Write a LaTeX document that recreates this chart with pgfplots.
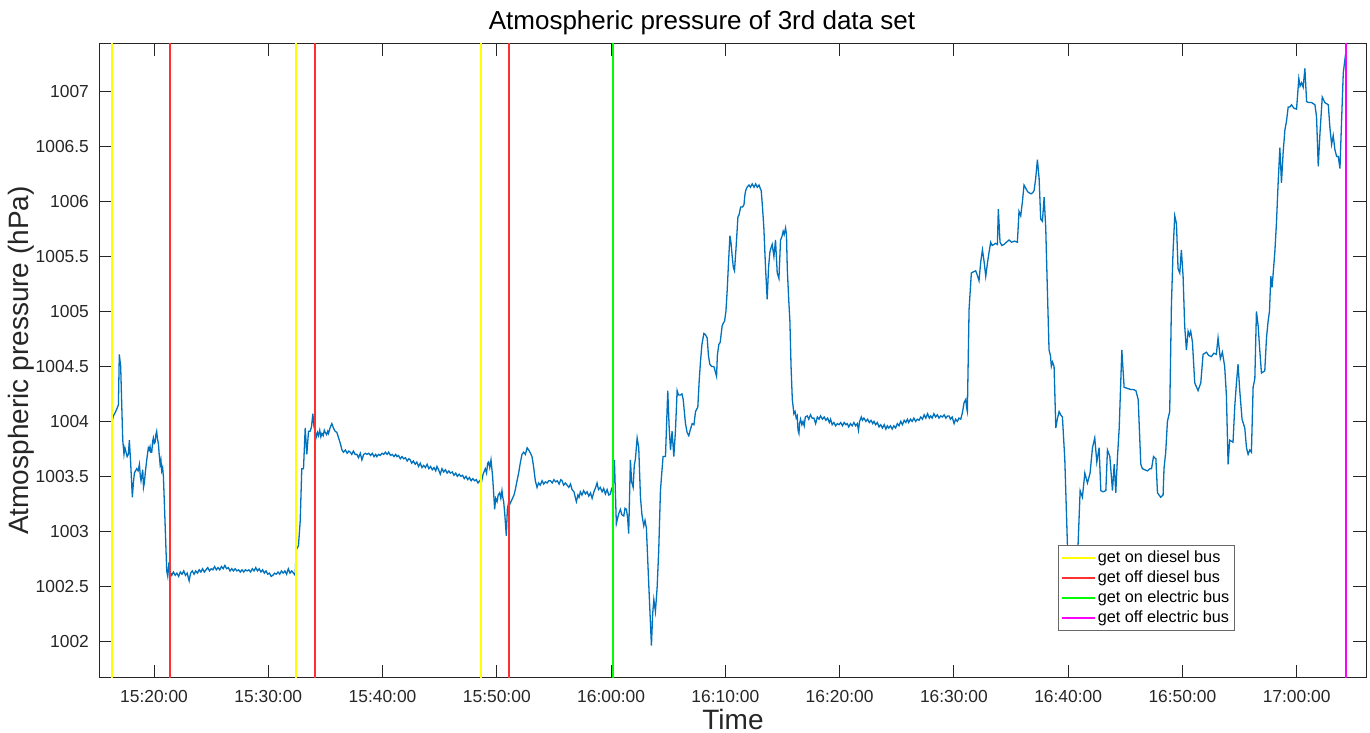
\documentclass[border=0pt]{standalone}
\usepackage{fontspec}
\setmainfont{Liberation Sans}
\usepackage{pgfplots}
\pgfplotsset{compat=1.18}
\definecolor{mlblue}{HTML}{0072BD}
\definecolor{axgray}{HTML}{262626}
\definecolor{evyellow}{HTML}{FFFF00}
\definecolor{evred}{HTML}{FF3030}
\definecolor{evgreen}{HTML}{00FF00}
\definecolor{evmagenta}{HTML}{FF00FF}

\begin{document}
\begin{tikzpicture}
\path[use as bounding box] (0,0) rectangle (685pt,366.5pt);
\begin{axis}[
  at={(50pt,27.5pt)}, anchor=south west,
  scale only axis, width=633pt, height=317.5pt,
  xmin=15.27, xmax=126.07, ymin=1001.666, ymax=1007.442,
  xtick={20,30,40,50,60,70,80,90,100,110,120},
  xticklabels={15:20:00,15:30:00,15:40:00,15:50:00,16:00:00,16:10:00,16:20:00,16:30:00,16:40:00,16:50:00,17:00:00},
  ytick={1002,1002.5,1003,1003.5,1004,1004.5,1005,1005.5,1006,1006.5,1007},
  yticklabels={1002,1002.5,1003,1003.5,1004,1004.5,1005,1005.5,1006,1006.5,1007},
  tick align=inside, tick pos=both, major tick length=6.3pt,
  axis line style={axgray, line width=0.5pt},
  tick style={axgray, line width=0.5pt},
  ticklabel style={font=\fontsize{8.7}{10}\selectfont, text=axgray},
  /pgf/number format/assume math mode=true,
  xticklabel style={yshift=-2.6pt},
  yticklabel style={xshift=-2pt},
  every axis title shift=0pt,
  title={Atmospheric pressure of 3rd data set},
  title style={at={(axis description cs:0.4755,1.0214)}, anchor=base, font=\fontsize{13}{15}\selectfont},
  xlabel={Time},
  xlabel style={at={(axis description cs:0.5,-0.0805)}, anchor=base, font=\fontsize{14}{16}\selectfont, text=axgray},
  ylabel={Atmospheric pressure (hPa)},
  ylabel style={at={(axis description cs:-0.0624,0.5)}, anchor=center, font=\fontsize{14}{16}\selectfont, text=axgray},
  unbounded coords=jump,
  legend cell align=left,
  legend image code/.code={\draw[#1] (0pt,0pt) -- (16.5pt,0pt);},
  legend style={at={(axis description cs:0.7567,0.2094)}, anchor=north west,
    draw=axgray!70, fill=white, line width=0.5pt,
    font=\fontsize{8.1}{9}\selectfont,
    inner xsep=1.2pt, inner ysep=1.25pt,
    nodes={inner xsep=1.2pt, inner ysep=1.3pt, text depth=0.15em}},
]
% pressure series (minutes after 15:00, hPa)
\addplot[color=mlblue, line width=0.65pt, forget plot] coordinates {
(16.29,1003.98) (16.44,1004.05) (16.60,1004.08) (16.73,1004.11) (16.88,1004.15) (16.96,1004.61)
(17.08,1004.50) (17.20,1004.05) (17.26,1003.83) (17.37,1003.70) (17.45,1003.76) (17.55,1003.72)
(17.65,1003.68) (17.75,1003.70) (17.84,1003.83) (17.96,1003.61) (18.10,1003.31) (18.20,1003.45)
(18.28,1003.53) (18.38,1003.55) (18.48,1003.57) (18.60,1003.55) (18.72,1003.61) (18.80,1003.50)
(18.86,1003.46) (19.01,1003.56) (19.08,1003.40) (19.15,1003.44) (19.25,1003.55) (19.36,1003.65)
(19.45,1003.72) (19.50,1003.76) (19.58,1003.74) (19.65,1003.77) (19.72,1003.72) (19.80,1003.72)
(19.88,1003.82) (19.94,1003.85) (20.02,1003.80) (20.09,1003.81) (20.16,1003.88) (20.23,1003.91)
(20.30,1003.84) (20.38,1003.80) (20.45,1003.70) (20.53,1003.61) (20.60,1003.65) (20.67,1003.55)
(20.75,1003.58) (20.82,1003.50) (20.96,1003.09) (21.11,1002.64) (21.20,1002.59) (21.31,1002.72)
(21.40,1002.62) (21.46,1002.62) (21.55,1002.60) (21.70,1002.63) (21.85,1002.60) (22.00,1002.62)
(22.15,1002.59) (22.30,1002.63) (22.45,1002.61) (22.60,1002.64) (22.75,1002.60) (22.90,1002.62)
(23.07,1002.55) (23.20,1002.62) (23.35,1002.64) (23.50,1002.61) (23.65,1002.64) (23.80,1002.62)
(23.95,1002.65) (24.10,1002.63) (24.25,1002.66) (24.40,1002.63) (24.55,1002.65) (24.70,1002.67)
(24.85,1002.64) (25.00,1002.66) (25.15,1002.65) (25.30,1002.68) (25.45,1002.65) (25.60,1002.67)
(25.75,1002.65) (25.90,1002.68) (26.05,1002.66) (26.20,1002.69) (26.35,1002.66) (26.50,1002.67)
(26.65,1002.64) (26.80,1002.66) (26.95,1002.64) (27.10,1002.66) (27.25,1002.64) (27.40,1002.65)
(27.55,1002.63) (27.70,1002.65) (27.85,1002.63) (28.00,1002.65) (28.15,1002.64) (28.30,1002.65)
(28.45,1002.63) (28.60,1002.66) (28.75,1002.64) (28.90,1002.67) (29.05,1002.64) (29.20,1002.66)
(29.35,1002.63) (29.50,1002.65) (29.65,1002.62) (29.80,1002.64) (29.95,1002.61) (30.10,1002.62)
(30.25,1002.59) (30.40,1002.60) (30.55,1002.62) (30.70,1002.61) (30.85,1002.63) (31.00,1002.61)
(31.15,1002.64) (31.30,1002.62) (31.45,1002.64) (31.60,1002.61) (31.75,1002.66) (31.90,1002.62)
(32.05,1002.64) (32.20,1002.62) (32.35,1002.60) (32.44,1002.83) (32.64,1002.87) (32.79,1003.09)
(32.93,1003.57) (33.08,1003.57) (33.23,1003.94) (33.37,1003.70) (33.52,1003.91) (33.66,1003.91)
(33.78,1003.95) (33.90,1004.07) (34.00,1003.95) (34.10,1003.91) (34.20,1003.86) (34.30,1003.90)
(34.39,1003.87) (34.50,1003.92) (34.60,1003.86) (34.69,1003.89) (34.80,1003.87) (34.90,1003.92)
(34.98,1003.90) (35.10,1003.88) (35.20,1003.91) (35.27,1003.89) (35.40,1003.94) (35.56,1003.98)
(35.70,1003.94) (35.85,1003.91) (36.00,1003.90) (36.15,1003.85) (36.30,1003.80) (36.45,1003.74)
(36.58,1003.72) (36.75,1003.74) (36.90,1003.71) (37.05,1003.73) (37.17,1003.72) (37.30,1003.70)
(37.45,1003.73) (37.60,1003.70) (37.75,1003.70) (37.90,1003.67) (38.05,1003.71) (38.19,1003.65)
(38.35,1003.70) (38.50,1003.71) (38.63,1003.70) (38.80,1003.71) (38.95,1003.69) (39.10,1003.71)
(39.25,1003.68) (39.40,1003.70) (39.50,1003.68) (39.65,1003.70) (39.80,1003.69) (39.95,1003.71)
(40.10,1003.70) (40.25,1003.72) (40.40,1003.70) (40.53,1003.72) (40.70,1003.69) (40.85,1003.70)
(41.00,1003.68) (41.15,1003.70) (41.26,1003.68) (41.40,1003.69) (41.55,1003.66) (41.70,1003.68)
(41.85,1003.66) (42.00,1003.67) (42.15,1003.64) (42.30,1003.66) (42.42,1003.65) (42.55,1003.62)
(42.70,1003.64) (42.85,1003.61) (43.00,1003.63) (43.15,1003.59) (43.30,1003.62) (43.45,1003.58)
(43.60,1003.60) (43.75,1003.58) (43.90,1003.61) (44.05,1003.57) (44.20,1003.59) (44.35,1003.56)
(44.50,1003.58) (44.65,1003.55) (44.76,1003.59) (44.90,1003.56) (45.05,1003.52) (45.20,1003.57)
(45.35,1003.54) (45.50,1003.56) (45.65,1003.53) (45.80,1003.55) (45.93,1003.53) (46.10,1003.54)
(46.25,1003.51) (46.40,1003.53) (46.55,1003.50) (46.70,1003.52) (46.85,1003.50) (47.00,1003.51)
(47.15,1003.48) (47.30,1003.50) (47.45,1003.47) (47.60,1003.49) (47.75,1003.46) (47.90,1003.48)
(48.05,1003.46) (48.20,1003.47) (48.35,1003.44) (48.50,1003.46) (48.64,1003.44) (48.80,1003.52)
(48.99,1003.57) (49.10,1003.53) (49.20,1003.62) (49.28,1003.63) (49.38,1003.58) (49.49,1003.65)
(49.63,1003.50) (49.72,1003.35) (49.81,1003.20) (49.90,1003.30) (50.02,1003.27) (50.12,1003.33)
(50.25,1003.35) (50.35,1003.30) (50.45,1003.37) (50.52,1003.31) (50.60,1003.27) (50.70,1003.15)
(50.83,1002.96) (50.92,1003.20) (51.04,1003.27) (51.15,1003.25) (51.33,1003.29) (51.50,1003.33)
(51.62,1003.38) (51.75,1003.45) (51.91,1003.53) (52.05,1003.62) (52.20,1003.70) (52.35,1003.72)
(52.50,1003.70) (52.65,1003.76) (52.79,1003.74) (52.95,1003.71) (53.08,1003.68) (53.20,1003.60)
(53.37,1003.46) (53.52,1003.40) (53.65,1003.44) (53.80,1003.42) (53.96,1003.46) (54.10,1003.43)
(54.25,1003.45) (54.40,1003.44) (54.55,1003.46) (54.69,1003.46) (54.85,1003.44) (55.00,1003.47)
(55.15,1003.45) (55.30,1003.46) (55.45,1003.43) (55.60,1003.47) (55.71,1003.46) (55.85,1003.42)
(56.00,1003.44) (56.15,1003.42) (56.30,1003.40) (56.45,1003.43) (56.58,1003.38) (56.75,1003.36)
(56.96,1003.27) (57.10,1003.33) (57.20,1003.31) (57.31,1003.36) (57.45,1003.33) (57.60,1003.37)
(57.75,1003.34) (57.90,1003.36) (58.05,1003.32) (58.20,1003.35) (58.34,1003.30) (58.50,1003.36)
(58.65,1003.40) (58.77,1003.44) (58.90,1003.38) (59.05,1003.40) (59.21,1003.36) (59.35,1003.39)
(59.50,1003.34) (59.65,1003.38) (59.80,1003.33) (59.94,1003.34) (60.05,1003.39) (60.17,1003.38)
(60.29,1003.65) (60.46,1003.07) (60.57,1003.12) (60.67,1003.16) (60.81,1003.20) (60.95,1003.15)
(61.11,1003.14) (61.22,1003.21) (61.34,1003.20) (61.45,1003.12) (61.54,1002.98) (61.69,1003.65)
(61.80,1003.45) (61.93,1003.40) (62.03,1003.60) (62.13,1003.66) (62.28,1003.85) (62.42,1003.76)
(62.57,1003.31) (62.70,1003.15) (62.86,1003.05) (62.97,1003.10) (63.09,1003.03) (63.30,1002.51)
(63.53,1001.96) (63.64,1002.25) (63.74,1002.38) (63.88,1002.27) (64.03,1002.49) (64.17,1002.83)
(64.32,1003.37) (64.45,1003.55) (64.55,1003.68) (64.76,1003.68) (64.96,1004.28) (65.08,1003.95)
(65.20,1003.74) (65.34,1003.91) (65.49,1003.68) (65.63,1003.91) (65.78,1004.28) (65.90,1004.24)
(66.07,1004.24) (66.20,1004.25) (66.31,1004.20) (66.51,1003.98) (66.65,1003.90) (66.80,1003.87)
(66.95,1003.93) (67.10,1003.98) (67.25,1003.97) (67.39,1004.09) (67.59,1004.13) (67.70,1004.35)
(67.82,1004.54) (67.95,1004.70) (68.12,1004.80) (68.25,1004.79) (68.41,1004.76) (68.52,1004.60)
(68.64,1004.52) (68.80,1004.50) (68.99,1004.50) (69.10,1004.46) (69.23,1004.41) (69.30,1004.60)
(69.43,1004.70) (69.55,1004.72) (69.72,1004.87) (69.85,1004.90) (69.93,1004.91) (70.05,1005.00)
(70.16,1005.19) (70.28,1005.45) (70.40,1005.69) (70.50,1005.62) (70.60,1005.50) (70.70,1005.40)
(70.80,1005.37) (70.95,1005.60) (71.10,1005.86) (71.20,1005.88) (71.34,1005.95) (71.50,1005.95)
(71.63,1005.97) (71.70,1006.05) (71.78,1006.10) (71.90,1006.13) (72.07,1006.15) (72.20,1006.13)
(72.35,1006.16) (72.51,1006.13) (72.65,1006.16) (72.80,1006.13) (72.95,1006.15) (73.05,1006.12)
(73.14,1006.10) (73.25,1005.95) (73.37,1005.76) (73.52,1005.39) (73.66,1005.11) (73.78,1005.40)
(73.90,1005.54) (74.00,1005.58) (74.10,1005.61) (74.25,1005.50) (74.39,1005.65) (74.54,1005.35)
(74.69,1005.30) (74.83,1005.65) (74.95,1005.68) (75.06,1005.73) (75.15,1005.70) (75.27,1005.76)
(75.35,1005.70) (75.42,1005.39) (75.55,1005.10) (75.65,1004.91) (75.75,1004.50) (75.86,1004.20)
(76.00,1004.07) (76.10,1004.09) (76.20,1004.03) (76.29,1004.05) (76.36,1003.92) (76.44,1003.89)
(76.50,1003.98) (76.58,1004.02) (76.70,1003.97) (76.80,1004.00) (76.90,1003.96) (77.00,1004.04)
(77.17,1004.05) (77.30,1004.02) (77.45,1004.06) (77.60,1004.03) (77.75,1004.03) (77.90,1003.98)
(78.05,1004.04) (78.20,1004.02) (78.33,1004.05) (78.50,1004.02) (78.65,1004.04) (78.80,1004.01)
(78.95,1004.03) (79.10,1003.99) (79.21,1004.02) (79.35,1003.97) (79.50,1003.99) (79.65,1003.96)
(79.80,1003.98) (79.95,1003.97) (80.10,1003.99) (80.25,1003.96) (80.40,1003.99) (80.55,1003.97)
(80.67,1003.98) (80.80,1003.95) (80.95,1003.98) (81.10,1003.96) (81.25,1003.99) (81.40,1003.96)
(81.55,1003.98) (81.65,1003.92) (81.75,1004.00) (81.90,1004.04) (82.00,1004.01) (82.13,1004.03)
(82.30,1004.00) (82.45,1004.02) (82.60,1003.99) (82.75,1004.01) (82.90,1003.98) (83.01,1004.00)
(83.15,1003.97) (83.30,1003.99) (83.45,1003.95) (83.60,1003.97) (83.75,1003.94) (83.90,1003.97)
(84.05,1003.93) (84.17,1003.96) (84.30,1003.94) (84.45,1003.96) (84.60,1003.93) (84.75,1003.96)
(84.90,1003.94) (85.05,1003.98) (85.20,1003.96) (85.35,1004.00) (85.50,1003.97) (85.65,1004.01)
(85.80,1003.99) (85.93,1004.02) (86.05,1003.99) (86.20,1004.02) (86.35,1004.00) (86.50,1004.03)
(86.65,1004.00) (86.80,1004.02) (86.95,1004.01) (87.10,1004.04) (87.25,1004.02) (87.40,1004.06)
(87.55,1004.03) (87.70,1004.07) (87.85,1004.03) (87.97,1004.05) (88.10,1004.03) (88.25,1004.07)
(88.40,1004.04) (88.55,1004.06) (88.70,1004.03) (88.85,1004.05) (89.00,1004.04) (89.15,1004.06)
(89.30,1004.03) (89.45,1004.05) (89.58,1004.05) (89.70,1004.02) (89.85,1004.04) (90.02,1003.98)
(90.15,1004.02) (90.30,1004.00) (90.45,1004.03) (90.60,1004.02) (90.75,1004.08) (90.89,1004.17)
(91.04,1004.20) (91.12,1004.12) (91.18,1004.09) (91.33,1005.02) (91.53,1005.35) (91.70,1005.36)
(91.91,1005.37) (92.05,1005.33) (92.20,1005.28) (92.35,1005.45) (92.50,1005.56) (92.65,1005.45)
(92.79,1005.32) (92.95,1005.45) (93.08,1005.54) (93.22,1005.63) (93.35,1005.60) (93.51,1005.61)
(93.65,1005.62) (93.81,1005.61) (93.89,1005.93) (94.04,1005.63) (94.20,1005.60) (94.39,1005.61)
(94.60,1005.63) (94.83,1005.65) (95.05,1005.63) (95.30,1005.64) (95.56,1005.63) (95.70,1005.91)
(95.85,1005.87) (96.00,1006.00) (96.14,1006.15) (96.30,1006.12) (96.45,1006.09) (96.58,1006.08)
(96.75,1006.07) (96.90,1006.08) (97.02,1006.10) (97.15,1006.20) (97.31,1006.38) (97.46,1006.21)
(97.60,1005.84) (97.75,1005.82) (97.90,1006.04) (98.04,1005.76) (98.19,1005.17) (98.33,1004.65)
(98.45,1004.60) (98.53,1004.50) (98.63,1004.54) (98.77,1004.50) (98.92,1003.94) (99.05,1004.02)
(99.21,1004.09) (99.35,1004.06) (99.50,1004.04) (99.71,1003.65) (99.94,1002.87) (100.38,1002.70)
(100.87,1002.88) (101.05,1003.37) (101.25,1003.31) (101.46,1003.53) (101.69,1003.44) (101.92,1003.53)
(102.13,1003.76) (102.33,1003.85) (102.51,1003.63) (102.71,1003.76) (102.86,1003.37) (103.05,1003.36)
(103.30,1003.37) (103.44,1003.74) (103.65,1003.68) (103.88,1003.37) (104.03,1003.61) (104.17,1003.35)
(104.32,1003.68) (104.47,1003.94) (104.70,1004.65) (104.90,1004.31) (105.20,1004.30) (105.49,1004.29)
(105.70,1004.29) (105.93,1004.28) (106.13,1004.20) (106.36,1003.61) (106.50,1003.57) (106.70,1003.56)
(106.95,1003.55) (107.15,1003.57) (107.30,1003.57) (107.47,1003.68) (107.68,1003.66) (107.82,1003.35)
(108.10,1003.31) (108.31,1003.33) (108.39,1003.57) (108.54,1003.72) (108.69,1004.00) (108.89,1004.09)
(109.04,1005.06) (109.18,1005.54) (109.33,1005.87) (109.48,1005.80) (109.62,1005.39) (109.77,1005.35)
(109.91,1005.56) (110.06,1005.32) (110.20,1004.87) (110.35,1004.65) (110.50,1004.82) (110.62,1004.78)
(110.73,1004.82) (110.88,1004.72) (111.08,1004.35) (111.37,1004.28) (111.61,1004.35) (111.81,1004.61)
(112.10,1004.63) (112.30,1004.60) (112.54,1004.59) (112.75,1004.62) (112.97,1004.61) (113.12,1004.76)
(113.32,1004.57) (113.50,1004.63) (113.70,1004.50) (113.85,1004.24) (114.00,1003.61) (114.14,1003.83)
(114.43,1003.81) (114.58,1004.13) (114.73,1004.35) (114.87,1004.52) (115.02,1004.28) (115.22,1004.02)
(115.46,1003.94) (115.61,1003.76) (115.75,1003.70) (115.90,1003.74) (116.04,1003.72) (116.19,1004.31)
(116.34,1004.39) (116.48,1005.00) (116.63,1004.87) (116.77,1004.65) (116.92,1004.44) (117.21,1004.46)
(117.36,1004.76) (117.50,1004.91) (117.62,1005.00) (117.74,1005.32) (117.85,1005.22) (118.09,1005.54)
(118.23,1005.80) (118.38,1006.17) (118.53,1006.49) (118.67,1006.17) (118.82,1006.45) (118.97,1006.65)
(119.11,1006.73) (119.26,1006.86) (119.40,1006.86) (119.55,1006.88) (119.75,1006.85) (119.99,1006.84)
(120.19,1007.12) (120.30,1007.05) (120.43,1007.08) (120.57,1007.04) (120.72,1007.21) (120.87,1006.91)
(121.05,1006.90) (121.31,1006.90) (121.60,1006.88) (121.74,1006.77) (121.89,1006.32) (122.04,1006.62)
(122.24,1006.95) (122.47,1006.90) (122.77,1006.88) (122.91,1006.67) (123.06,1006.52) (123.20,1006.60)
(123.35,1006.47) (123.50,1006.41) (123.64,1006.41) (123.79,1006.30) (123.93,1006.73) (124.08,1007.17)
(124.28,1007.34) (124.37,1007.36)
};
% event markers, one plot per kind (segments split by nan)
\addplot[color=evyellow, line width=0.8pt] coordinates {
  (16.32,1001.666) (16.32,1007.442) (24,nan)
  (32.40,1001.666) (32.40,1007.442) (40,nan)
  (48.64,1001.666) (48.64,1007.442)};
\addlegendentry{get on diesel bus}
\addplot[color=evred, line width=0.8pt] coordinates {
  (21.40,1001.666) (21.40,1007.442) (28,nan)
  (34.11,1001.666) (34.11,1007.442) (42,nan)
  (51.09,1001.666) (51.09,1007.442)};
\addlegendentry{get off diesel bus}
\addplot[color=evgreen, line width=0.8pt] coordinates {(60.15,1001.666) (60.15,1007.442)};
\addlegendentry{get on electric bus}
\addplot[color=evmagenta, line width=0.8pt] coordinates {(124.33,1001.666) (124.33,1007.442)};
\addlegendentry{get off electric bus}
\end{axis}
\end{tikzpicture}
\end{document}
